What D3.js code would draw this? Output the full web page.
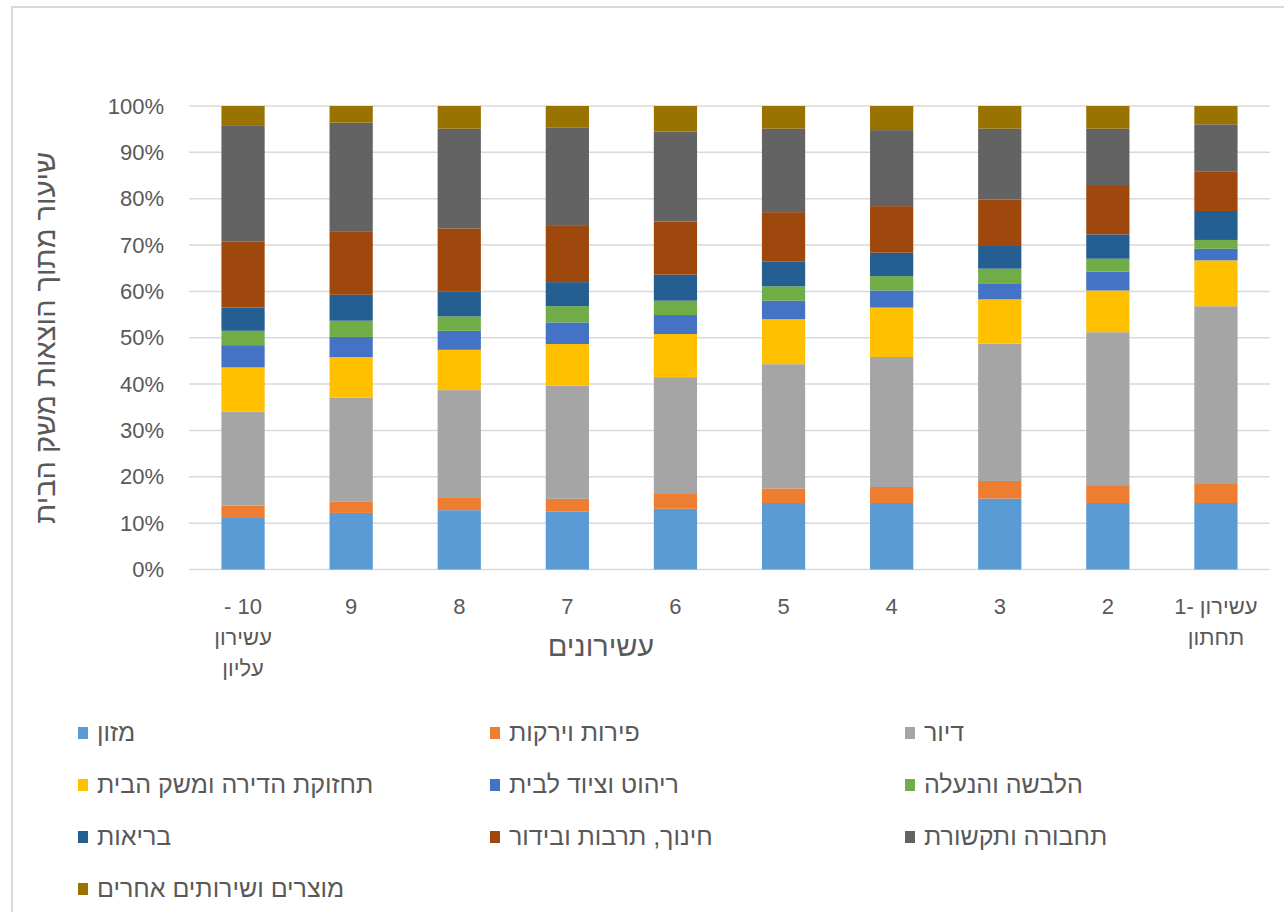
<!DOCTYPE html>
<html lang="he">
<head>
<meta charset="UTF-8" />
<title>הוצאות משק הבית לפי עשירונים</title>
<script src="https://d3js.org/d3.v7.min.js"></script>
<style>
  body { margin: 0; background: #fff; font-family: "Liberation Sans", Arial, sans-serif; }
  svg text { fill: #595959; }
</style>
</head>
<body>
<div id="chart"></div>
<script>
// deciles, lowest first (drawn right to left)
const deciles = ["1", "2", "3", "4", "5", "6", "7", "8", "9", "10"];
// each label line is a list of pieces laid out left to right
const decileLabels = [
  [["1-", "עשירון"], ["תחתון"]], [["2"]], [["3"]], [["4"]], [["5"]], [["6"]], [["7"]], [["8"]], [["9"]],
  [["- 10"], ["עשירון"], ["עליון"]]
];

const seriesNames = [
  "מזון", "פירות וירקות", "דיור", "תחזוקת הדירה ומשק הבית", "ריהוט וציוד לבית",
  "הלבשה והנעלה", "בריאות", "חינוך, תרבות ובידור", "תחבורה ותקשורת", "מוצרים ושירותים אחרים"
];
const seriesColors = ["#5b9bd5", "#ed7d31", "#a5a5a5", "#ffc000", "#4472c4",
  "#70ad47", "#255e91", "#9e480e", "#636363", "#997300"];

// share of spending (%) per decile 1..10
const food        = [14.35, 14.35, 15.3, 14.35, 14.35, 13.1, 12.55, 12.8, 12.2, 11.3];
const fruitVeg    = [4.1, 3.85, 3.8, 3.45, 3.15, 3.2, 2.7, 2.8, 2.5, 2.5];
const housing     = [38.35, 33.0, 29.6, 28.05, 26.8, 25.2, 24.4, 23.1, 22.4, 20.3];
const maintenance = [9.9, 9.0, 9.6, 10.65, 9.7, 9.3, 9.0, 8.7, 8.7, 9.5];
const furniture   = [2.5, 4.05, 3.45, 3.7, 4.0, 4.1, 4.65, 4.1, 4.35, 4.8];
const clothing    = [1.9, 2.8, 3.15, 3.1, 3.1, 3.1, 3.5, 3.1, 3.5, 3.1];
const health      = [6.25, 5.25, 4.9, 5.05, 5.3, 5.6, 5.2, 5.3, 5.6, 5.0];
const education   = [8.45, 10.65, 10.0, 10.05, 10.7, 11.5, 12.3, 13.7, 13.7, 14.3];
const transport   = [10.25, 12.15, 15.3, 16.4, 18.0, 19.4, 21.1, 21.5, 23.4, 24.9];
const other       = [3.95, 4.9, 4.9, 5.2, 4.9, 5.5, 4.6, 4.9, 3.6, 4.3];

const yTicks = [0, 0.1, 0.2, 0.3, 0.4, 0.5, 0.6, 0.7, 0.8, 0.9, 1];

const seriesValues = [food, fruitVeg, housing, maintenance, furniture,
  clothing, health, education, transport, other];

const rows = deciles.map((d, i) => {
  const r = { decile: d };
  seriesNames.forEach((s, j) => r[s] = seriesValues[j][i]);
  return r;
});

const width = 1284, height = 912;
const svg = d3.select("#chart").append("svg")
  .attr("width", width).attr("height", height);

// chart frame
svg.append("rect")
  .attr("x", 12).attr("y", 7)
  .attr("width", width + 20).attr("height", height + 20)
  .attr("fill", "none").attr("stroke", "#d9d9d9").attr("stroke-width", 2);

const plot = { left: 189, right: 1270, top: 106, bottom: 569.5 };

const x = d3.scaleBand()
  .domain(deciles.slice().reverse())
  .range([plot.left, plot.right])
  .paddingInner(0.6).paddingOuter(0.3);

const y = d3.scaleLinear().domain([0, 1]).range([plot.bottom, plot.top]);

// gridlines
svg.append("g").selectAll("line").data(yTicks).join("line")
  .attr("x1", plot.left).attr("x2", plot.right)
  .attr("y1", d => y(d)).attr("y2", d => y(d))
  .attr("stroke", "#d9d9d9").attr("stroke-width", 1.5);

// y axis
const yAxis = svg.append("g")
  .attr("transform", `translate(${plot.left},0)`)
  .call(d3.axisLeft(y).tickValues(yTicks).tickFormat(d3.format(".0%")).tickSize(0).tickPadding(25));
yAxis.select(".domain").remove();
yAxis.selectAll("text")
  .style("font-family", "'Liberation Sans', Arial, sans-serif")
  .style("font-size", "22px").attr("fill", "#595959");

// stacked bars
const stack = d3.stack().keys(seriesNames).offset(d3.stackOffsetExpand);
const layers = stack(rows);

svg.append("g").selectAll("g").data(layers).join("g")
  .attr("fill", (d, i) => seriesColors[i])
  .selectAll("rect").data(d => d).join("rect")
  .attr("x", d => x(d.data.decile))
  .attr("width", x.bandwidth())
  .attr("y", d => y(d[1]))
  .attr("height", d => y(d[0]) - y(d[1]));

// x tick labels: one group per line, pieces placed left to right then centred
const gap = 6;
const xg = svg.append("g").selectAll("g").data(deciles).join("g")
  .attr("transform", d => `translate(${x(d) + x.bandwidth() / 2},614)`);
xg.each(function (d, i) {
  decileLabels[i].forEach((pieces, li) => {
    const line = d3.select(this).append("g").attr("transform", `translate(0,${li * 31})`);
    const texts = pieces.map(p => line.append("text").style("font-size", "22px").text(p));
    const widths = texts.map(t => t.node().getComputedTextLength());
    const total = d3.sum(widths) + gap * (pieces.length - 1);
    let cx = -total / 2;
    texts.forEach((t, k) => { t.attr("x", cx); cx += widths[k] + gap; });
  });
});

// axis titles
svg.append("text")
  .attr("x", 601).attr("y", 656)
  .attr("text-anchor", "middle")
  .style("font-size", "29px")
  .text("עשירונים");

svg.append("text")
  .attr("transform", `translate(55,${(plot.top + plot.bottom) / 2}) rotate(-90)`)
  .attr("text-anchor", "middle")
  .style("font-size", "29px")
  .text("שיעור מתוך הוצאות משק הבית");

// legend, 3 columns
const colX = [78, 490, 905];
const legend = svg.append("g").selectAll("g").data(seriesNames).join("g")
  .attr("transform", (d, i) => `translate(${colX[i % 3]},${733 + Math.floor(i / 3) * 52})`);
legend.append("rect")
  .attr("x", 0).attr("y", -6).attr("width", 10).attr("height", 12)
  .attr("fill", (d, i) => seriesColors[i]);
legend.append("text")
  .attr("x", 19).attr("y", 8)
  .style("font-size", "25px")
  .text(d => d);
</script>
</body>
</html>
